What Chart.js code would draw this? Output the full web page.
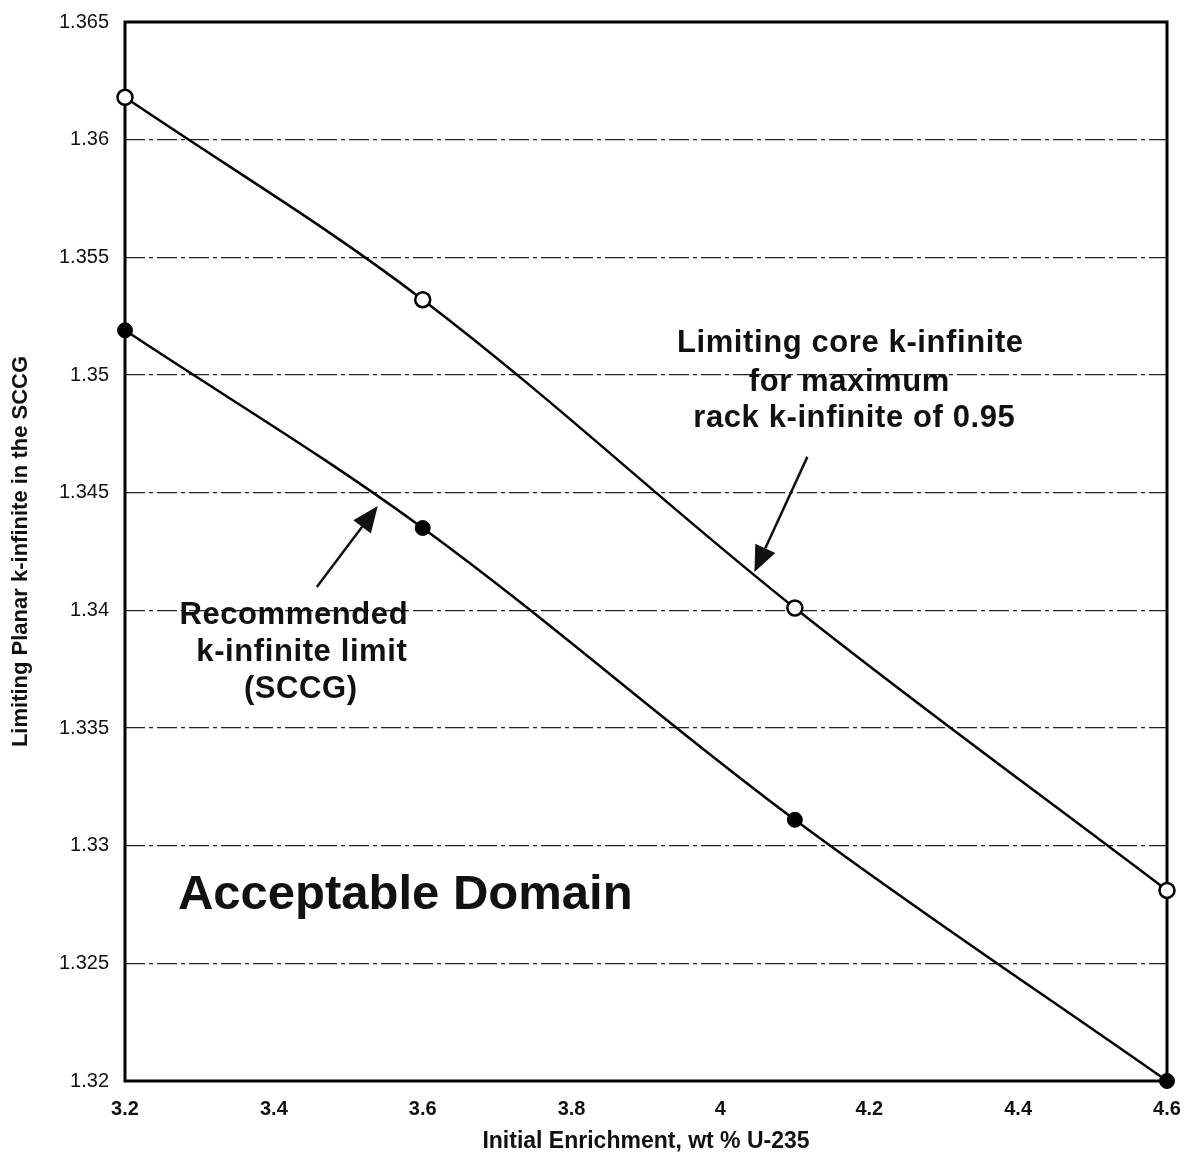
<!DOCTYPE html>
<html>
<head>
<meta charset="utf-8">
<title>Limiting Planar k-infinite</title>
<script src="https://cdn.jsdelivr.net/npm/chart.js@4.4.1/dist/chart.umd.min.js"></script>
<style>
  body { margin: 0; background: #fff; }
  #wrap { width: 1190px; height: 1160px; position: relative; }
</style>
</head>
<body>
<div id="wrap"><canvas id="kinfChart"></canvas></div>
<script>
const FONT = 'Arial, "Liberation Sans", sans-serif';

// values
const enrichment = [3.2, 3.6, 4.1, 4.6];
const coreLimit = [1.3618, 1.3532, 1.3401, 1.3281];        // open circles
const recommendedLimit = [1.3519, 1.3435, 1.3311, 1.3200]; // filled circles

const xTickMin = 3.2, xTickMax = 4.6, xTickStep = 0.2;
const yTickMin = 1.32, yTickMax = 1.365, yTickStep = 0.005;

// text notes and arrows, placed in data coordinates
const noteLines = [
    { text: 'Limiting core k-infinite', x: 4.1745, y: 1.35136 },
    { text: 'for maximum', x: 4.1732, y: 1.34970 },
    { text: 'rack k-infinite of 0.95', x: 4.1799, y: 1.34817 },
    { text: 'Recommended', x: 3.4268, y: 1.33980 },
    { text: 'k-infinite limit', x: 3.4376, y: 1.33819 },
    { text: '(SCCG)', x: 3.4362, y: 1.33662 }
];
const arrows = [
    { from: [4.1168, 1.34652], to: [4.0457, 1.34163] },
    { from: [3.4577, 1.34099], to: [3.5396, 1.34443] }
];
const domainLabel = { text: 'Acceptable Domain', x: 3.2711, y: 1.32790 };

const toXY = (xs, ys) => xs.map((x, i) => ({ x: x, y: ys[i] }));

const framePlugin = {
    id: 'frame',
    beforeDatasetsDraw(chart) {
        const a = chart.chartArea;
        const ctx = chart.ctx;
        ctx.save();
        ctx.strokeStyle = '#000';
        ctx.lineWidth = 3;
        ctx.strokeRect(a.left, a.top, a.right - a.left, a.bottom - a.top);
        ctx.restore();
    }
};

const notesPlugin = {
    id: 'notes',
    afterDatasetsDraw(chart) {
        const ctx = chart.ctx;
        const xs = chart.scales.x, ys = chart.scales.y;
        ctx.save();
        ctx.fillStyle = '#111';
        ctx.textBaseline = 'middle';

        ctx.font = 'bold 31px ' + FONT;
        ctx.letterSpacing = '0.6px';
        ctx.textAlign = 'center';
        noteLines.forEach(n => {
            ctx.fillText(n.text, xs.getPixelForValue(n.x), ys.getPixelForValue(n.y));
        });

        ctx.font = 'bold 49px ' + FONT;
        ctx.letterSpacing = '0px';
        ctx.textAlign = 'left';
        ctx.fillText(domainLabel.text, xs.getPixelForValue(domainLabel.x), ys.getPixelForValue(domainLabel.y));

        ctx.strokeStyle = '#111';
        ctx.lineWidth = 2.5;
        arrows.forEach(ar => {
            const x0 = xs.getPixelForValue(ar.from[0]), y0 = ys.getPixelForValue(ar.from[1]);
            const x1 = xs.getPixelForValue(ar.to[0]), y1 = ys.getPixelForValue(ar.to[1]);
            const ang = Math.atan2(y1 - y0, x1 - x0);
            const headLen = 26, headW = 11;
            const bx = x1 - headLen * Math.cos(ang), by = y1 - headLen * Math.sin(ang);
            ctx.beginPath();
            ctx.moveTo(x0, y0);
            ctx.lineTo(bx, by);
            ctx.stroke();
            ctx.beginPath();
            ctx.moveTo(x1, y1);
            ctx.lineTo(bx + headW * Math.sin(ang), by - headW * Math.cos(ang));
            ctx.lineTo(bx - headW * Math.sin(ang), by + headW * Math.cos(ang));
            ctx.closePath();
            ctx.fill();
        });
        ctx.restore();
    }
};

const ctx = document.getElementById('kinfChart').getContext('2d');
const kinfChart = new Chart(ctx, {
    type: 'line',
    data: {
        datasets: [{
            label: 'Limiting core k-infinite',
            data: toXY(enrichment, coreLimit),
            borderColor: '#000',
            borderWidth: 2.5,
            tension: 0.35,
            pointRadius: 7.5,
            pointBorderWidth: 2.5,
            pointBackgroundColor: '#fff',
            pointBorderColor: '#000',
            clip: false
        }, {
            label: 'Recommended k-infinite limit',
            data: toXY(enrichment, recommendedLimit),
            borderColor: '#000',
            borderWidth: 2.5,
            tension: 0.35,
            pointRadius: 7.5,
            pointBorderWidth: 1,
            pointBackgroundColor: '#000',
            pointBorderColor: '#000',
            clip: false
        }]
    },
    options: {
        responsive: true,
        maintainAspectRatio: false,
        animation: false,
        layout: { padding: { top: 22, right: 23, left: 0, bottom: 0 } },
        plugins: {
            legend: { display: false },
            tooltip: { enabled: false }
        },
        scales: {
            x: {
                type: 'linear',
                min: xTickMin,
                max: xTickMax,
                afterFit: scale => {
                    scale.height = 79;
                    scale.paddingLeft = 0;
                    scale.paddingRight = 0;
                },
                grid: { drawOnChartArea: false, drawTicks: false },
                border: { display: false },
                ticks: {
                    stepSize: xTickStep,
                    padding: 16,
                    color: '#111',
                    font: { family: FONT, size: 20, weight: 'bold' },
                    callback: v => String(Number(v.toFixed(1)))
                },
                title: {
                    display: true,
                    text: 'Initial Enrichment, wt % U-235',
                    color: '#111',
                    font: { family: FONT, size: 23, weight: 'bold' },
                    padding: { top: 0, bottom: 5 }
                }
            },
            y: {
                type: 'linear',
                min: yTickMin,
                max: yTickMax,
                afterFit: scale => {
                    scale.width = 125;
                    scale.paddingTop = 0;
                    scale.paddingBottom = 0;
                },
                grid: {
                    drawTicks: false,
                    color: c => (c.index === 0 || c.tick.value >= yTickMax - 1e-9) ? 'rgba(0,0,0,0)' : '#222',
                    lineWidth: 1.3
                },
                border: { display: false, dash: [20, 4, 4, 4] },
                ticks: {
                    stepSize: yTickStep,
                    padding: 16,
                    color: '#111',
                    font: { family: FONT, size: 20 },
                    callback: v => String(Number(v.toFixed(3)))
                },
                title: {
                    display: true,
                    text: 'Limiting Planar k-infinite in the SCCG',
                    color: '#111',
                    font: { family: FONT, size: 22, weight: 'bold' },
                    padding: { top: 8, bottom: 0 }
                }
            }
        }
    },
    plugins: [framePlugin, notesPlugin]
});
</script>
</body>
</html>
